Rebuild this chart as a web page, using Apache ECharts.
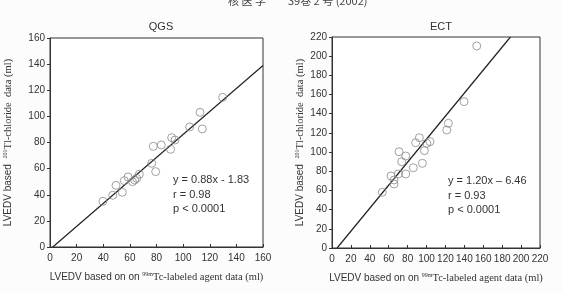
<!DOCTYPE html>
<html>
<head>
<meta charset="utf-8">
<script src="https://cdn.jsdelivr.net/npm/echarts@6/dist/echarts.min.js"></script>
<style>
  html, body { margin: 0; padding: 0; background: #fff; }
  #chart { width: 562px; height: 292px; }
</style>
</head>
<body>
<div id="chart"></div>
<script>
// QGS パネル: [99mTc LVEDV, 201Tl LVEDV]
const qgsX = [39.8, 47.1, 49.6, 54.3, 55.8, 58.6, 62, 63.6, 65.1, 67.1, 76.4, 79.4, 77.6, 83.6, 90.6, 91.4, 93.9, 104.9, 112.7, 114.4, 129.7];
const qgsY = [35, 39.6, 47.2, 41.9, 50.8, 53.6, 50, 51.3, 52.6, 55.7, 64.1, 57.7, 77.1, 78.1, 74.8, 83.7, 81.9, 91.9, 103.1, 90.4, 114.6];
// ECT パネル
const ectX = [53.2, 62.4, 65.6, 65.6, 70.2, 70.9, 73.7, 78, 78, 86, 88.5, 92.4, 95.6, 97.7, 100.2, 103.7, 121.4, 123.1, 139.7, 153.1];
const ectY = [58.1, 75.1, 70.9, 66.7, 77.2, 100.4, 90, 95.9, 77.2, 83.7, 109.8, 115, 88.3, 101.5, 109.2, 110.9, 123, 130, 152.6, 210.6];

// 回帰式 (slope, intercept) と軸範囲
const qgsFit = [0.88, -1.83];
const ectFit = [1.20, -6.46];
const qgsTicks = [0, 20, 40, 60, 80, 100, 120, 140, 160];
const ectTicks = [0, 20, 40, 60, 80, 100, 120, 140, 160, 180, 200, 220];

// 軸範囲内にクリップした回帰直線の両端
function fitLine(fit, max) {
  const [a, b] = fit;
  const x0 = Math.max(0, -b / a);
  let x1 = max, y1 = a * max + b;
  if (y1 > max) { y1 = max; x1 = (max - b) / a; }
  return [[x0, a * x0 + b], [x1, y1]];
}

const SANS = 'Liberation Sans, Arial, sans-serif';
const SERIF = 'Liberation Serif, Times New Roman, serif';
const INK = '#333';

const nameRich = {
  s: { fontFamily: SANS, fontSize: 10, color: INK },
  r: { fontFamily: SERIF, fontSize: 10.5, color: INK },
  sup: { fontFamily: SERIF, fontSize: 6, color: INK, verticalAlign: 'top', lineHeight: 12 }
};
const xName = '{s|LVEDV based on on }{sup|99m}{r|Tc-labeled agent data (ml)}';
const yName = '{s|LVEDV based  }{sup|201}{r|Tl-chloride  data (ml)}';

function xAxis(gridIndex, max, ticks) {
  return {
    gridIndex, type: 'value', min: 0, max, interval: 20,
    name: xName, nameLocation: 'middle', nameGap: 24,
    nameTextStyle: { rich: nameRich },
    axisLine: { show: true, lineStyle: { color: INK, width: 1 } },
    axisTick: { show: true, inside: true, length: 3, lineStyle: { color: INK } },
    axisLabel: { fontFamily: SANS, fontSize: 10, color: INK, margin: 6,
                 formatter: v => ticks.includes(v) ? String(v) : '' },
    splitLine: { show: false }
  };
}
function yAxis(gridIndex, max, gap, ticks) {
  return {
    gridIndex, type: 'value', min: 0, max, interval: 20,
    name: yName, nameLocation: 'middle', nameGap: gap, nameRotate: 90,
    nameTextStyle: { rich: nameRich },
    axisLine: { show: true, lineStyle: { color: INK, width: 1 } },
    axisTick: { show: true, length: 3, lineStyle: { color: INK } },
    axisLabel: { fontFamily: SANS, fontSize: 10, color: INK, margin: 5,
                 formatter: v => ticks.includes(v) ? String(v) : '' },
    splitLine: { show: false }
  };
}

const dot = { color: 'rgba(0,0,0,0)', borderColor: '#8a8a8a', borderWidth: 1 };

const option = {
  backgroundColor: '#fcfcfc',
  animation: false,
  title: [
    { text: 'QGS', left: 156, top: 16, textAlign: 'center',
      textStyle: { fontFamily: SANS, fontSize: 11, fontWeight: 'normal', color: INK } },
    { text: 'ECT', left: 436, top: 16, textAlign: 'center',
      textStyle: { fontFamily: SANS, fontSize: 11, fontWeight: 'normal', color: INK } }
  ],
  grid: [
    { left: 50, top: 38, width: 213, height: 209, show: true, borderColor: INK, borderWidth: 1, backgroundColor: '#fff' },
    { left: 332, top: 37, width: 208, height: 211, show: true, borderColor: INK, borderWidth: 1, backgroundColor: '#fff' }
  ],
  xAxis: [xAxis(0, 160, qgsTicks), xAxis(1, 220, ectTicks)],
  yAxis: [yAxis(0, 160, 36, qgsTicks), yAxis(1, 220, 26, ectTicks)],
  series: [
    { type: 'line', xAxisIndex: 0, yAxisIndex: 0, data: fitLine(qgsFit, 160),
      symbol: 'none', lineStyle: { color: '#222', width: 1.2 }, z: 1 },
    { type: 'scatter', xAxisIndex: 0, yAxisIndex: 0, symbolSize: 8,
      data: qgsX.map((x, i) => [x, qgsY[i]]), itemStyle: dot, z: 2 },
    { type: 'line', xAxisIndex: 1, yAxisIndex: 1, data: fitLine(ectFit, 220),
      symbol: 'none', lineStyle: { color: '#222', width: 1.2 }, z: 1 },
    { type: 'scatter', xAxisIndex: 1, yAxisIndex: 1, symbolSize: 8,
      data: ectX.map((x, i) => [x, ectY[i]]), itemStyle: dot, z: 2 }
  ],
  graphic: [
    { type: 'text', left: 228, top: -5, style: { text: '核 医 学　　39巻 2 号 (2002)',
      font: '11px "Noto Sans CJK JP"', fill: '#444' } },
    { type: 'text', left: 173, top: 173, style: { text: 'y = 0.88x - 1.83\nr = 0.98\np < 0.0001',
      font: '11px ' + SANS, fill: INK, lineHeight: 14.5 } },
    { type: 'text', left: 448, top: 174, style: { text: 'y = 1.20x – 6.46\nr = 0.93\np < 0.0001',
      font: '11px ' + SANS, fill: INK, lineHeight: 14.5 } }
  ]
};

echarts.init(document.getElementById('chart'), null, { renderer: 'canvas' }).setOption(option);
</script>
</body>
</html>
